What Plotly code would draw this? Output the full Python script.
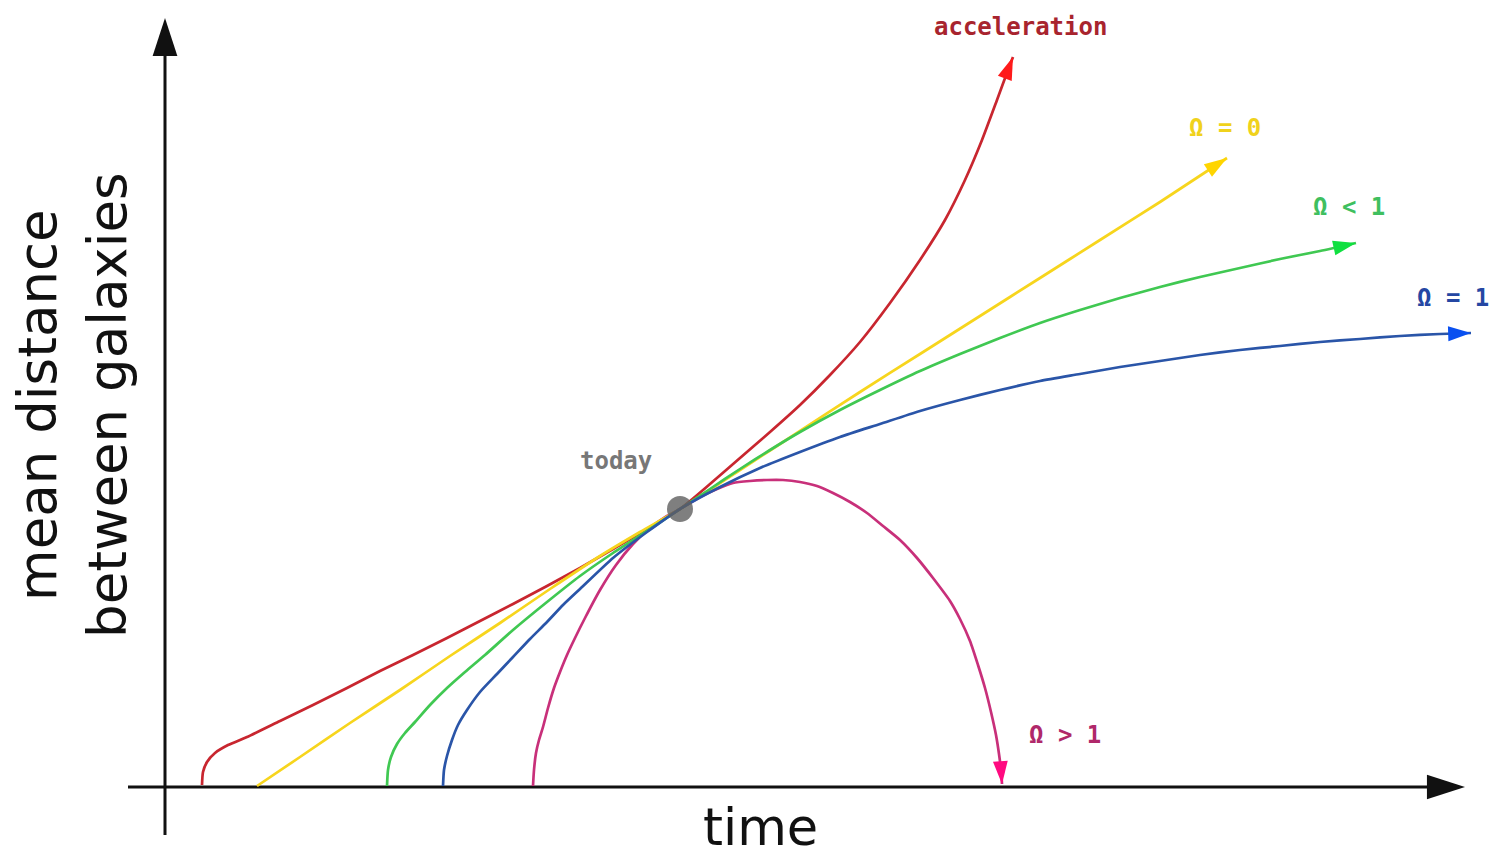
import plotly.graph_objects as go

# ---- data (time, mean distance) ----
red_t = [0.37, 0.38, 0.42, 0.50, 0.63, 0.82, 1.15, 1.48, 1.82, 2.15, 2.48, 2.82, 3.15, 3.48, 3.82, 4.15, 4.48, 4.82, 5.15,
         5.45, 5.75, 6.05, 6.35, 6.65, 6.95, 7.25, 7.55, 7.80, 8.00, 8.17, 8.32, 8.43, 8.48]
red_a = [0.02, 0.15, 0.25, 0.34, 0.42, 0.50, 0.66, 0.82, 0.99, 1.16, 1.32, 1.49, 1.66, 1.83, 2.01, 2.19, 2.38, 2.58, 2.78,
         3.03, 3.29, 3.55, 3.82, 4.12, 4.45, 4.84, 5.27, 5.67, 6.07, 6.47, 6.87, 7.17, 7.30]

yellow_t = [0.92, 1.35, 1.85, 2.35, 2.85, 3.35, 3.85, 4.35, 4.75, 5.15, 5.75, 6.35, 6.95, 7.55, 8.15, 8.75, 9.35, 9.95, 10.62]
yellow_a = [0.01, 0.30, 0.64, 0.97, 1.31, 1.64, 1.98, 2.31, 2.55, 2.78, 3.17, 3.56, 3.95, 4.33, 4.71, 5.09, 5.47, 5.85, 6.29]

green_t = [2.22, 2.23, 2.26, 2.32, 2.40, 2.50, 2.65, 2.82, 3.00, 3.20, 3.48, 3.82, 4.15, 4.48, 4.82, 5.15,
           5.45, 5.75, 6.05, 6.35, 6.75, 7.15, 7.55, 7.95, 8.35, 8.75, 9.15, 9.55, 9.95, 10.35, 10.75, 11.15, 11.55, 11.91]
green_a = [0.01, 0.17, 0.30, 0.43, 0.54, 0.65, 0.82, 0.99, 1.15, 1.32, 1.57, 1.85, 2.11, 2.34, 2.56, 2.78,
           2.98, 3.18, 3.37, 3.55, 3.77, 3.97, 4.16, 4.33, 4.49, 4.64, 4.77, 4.89, 5.00, 5.10, 5.19, 5.28, 5.36, 5.44]

blue_t = [2.78, 2.79, 2.82, 2.87, 2.93, 3.02, 3.15, 3.32, 3.48, 3.65, 3.82, 3.98, 4.15, 4.48, 4.82, 5.15,
          5.55, 5.95, 6.35, 6.75, 7.15, 7.55, 7.95, 8.35, 8.75, 9.15, 9.55, 9.95, 10.35, 10.75, 11.15, 11.55, 11.95, 12.35, 12.75, 13.06]
blue_a = [0.01, 0.17, 0.31, 0.47, 0.62, 0.77, 0.95, 1.13, 1.30, 1.48, 1.65, 1.82, 1.98, 2.29, 2.55, 2.78,
          3.00, 3.19, 3.35, 3.50, 3.63, 3.76, 3.87, 3.97, 4.06, 4.13, 4.20, 4.26, 4.32, 4.37, 4.41, 4.45, 4.48, 4.51, 4.53, 4.54]

magenta_t = [3.68, 3.69, 3.71, 3.74, 3.78, 3.83, 3.89, 3.95, 4.02, 4.10, 4.20, 4.35, 4.51, 4.68, 4.85, 5.02, 5.15, 5.35,
             5.52, 5.68, 5.85, 6.02, 6.18, 6.35, 6.52, 6.68, 6.85, 7.02, 7.18, 7.35, 7.52, 7.68, 7.85, 7.95, 8.05, 8.13,
             8.20, 8.26, 8.31, 8.34, 8.36, 8.37]
magenta_a = [0.01, 0.17, 0.34, 0.47, 0.60, 0.79, 0.99, 1.15, 1.32, 1.49, 1.69, 1.97, 2.22, 2.43, 2.59, 2.71, 2.78, 2.90,
             2.98, 3.04, 3.06, 3.07, 3.07, 3.05, 3.01, 2.94, 2.85, 2.74, 2.61, 2.47, 2.29, 2.09, 1.86, 1.68, 1.46, 1.22,
             0.99, 0.75, 0.52, 0.33, 0.17, 0.03]

today_t = [5.15]
today_a = [2.78]

# axis extents (time axis, distance axis)
xaxis_t = [-0.37, 13.00]
xaxis_a = [0.0, 0.0]
yaxis_t = [0.0, 0.0]
yaxis_a = [-0.48, 7.69]

# labels
labels = ["acceleration", "Ω = 0", "Ω < 1", "Ω = 1", "Ω > 1", "today"]
label_t = [8.55, 10.60, 11.84, 12.88, 9.00, 4.51]
label_a = [7.60, 6.59, 5.80, 4.89, 0.52, 3.26]
label_colors = ["#a8242e", "#f0d21c", "#3fbf5f", "#2547a3", "#b0286a", "#777777"]

x_title = "time"
y_title_1 = "mean distance"
y_title_2 = "between galaxies"

fig = go.Figure()

# axes with arrowheads
for tt, aa in [(xaxis_t, xaxis_a), (yaxis_t, yaxis_a)]:
    fig.add_trace(go.Scatter(
        x=tt, y=aa, mode="lines+markers",
        line=dict(color="#111111", width=3),
        marker=dict(symbol="arrow", size=[0, 40], angleref="previous", opacity=1,
                    color="#111111", line=dict(width=0)),
        hoverinfo="skip"))

curves = [
    (magenta_t, magenta_a, "#c8307a", "#ff0a80"),
    (red_t, red_a, "#c8262f", "#ff1a1a"),
    (yellow_t, yellow_a, "#f7d51d", "#ffd500"),
    (green_t, green_a, "#40c852", "#10e040"),
    (blue_t, blue_a, "#2a55a8", "#0a50f0"),
]
for tt, aa, lc, ac in curves:
    sizes = [0] * (len(tt) - 1) + [24]
    fig.add_trace(go.Scatter(
        x=tt, y=aa, mode="lines+markers",
        line=dict(color=lc, width=2.7, shape="spline", smoothing=0.6),
        marker=dict(symbol="arrow", size=sizes, angleref="previous", opacity=1,
                    color=ac, line=dict(width=0)),
        hoverinfo="skip"))

# today dot
fig.add_trace(go.Scatter(
    x=today_t, y=today_a, mode="markers",
    marker=dict(size=26, color="rgba(95,95,95,0.8)", opacity=1, line=dict(width=0)),
    hoverinfo="skip"))

for txt, tx, ay, col in zip(labels, label_t, label_a, label_colors):
    fig.add_annotation(x=tx, y=ay, text=txt, showarrow=False,
                       xanchor="center", yanchor="middle",
                       font=dict(family="DejaVu Sans Mono", size=24, color=col, weight="bold"))

fig.add_annotation(x=5.95, y=-0.40, text=x_title, showarrow=False,
                   xanchor="center", yanchor="middle", borderpad=0,
                   font=dict(family="DejaVu Sans", size=51, color="#111111"))
fig.add_annotation(x=-1.28, y=3.82, text=y_title_1, showarrow=False, textangle=-90,
                   xanchor="center", yanchor="middle",
                   font=dict(family="DejaVu Sans", size=53, color="#111111"))
fig.add_annotation(x=-0.58, y=3.82, text=y_title_2, showarrow=False, textangle=-90,
                   xanchor="center", yanchor="middle",
                   font=dict(family="DejaVu Sans", size=53, color="#111111"))

# page body has an 8px margin, so the figure covers the window from (8, 8)
fig.update_layout(
    width=1494, height=849,
    margin=dict(l=0, r=0, t=0, b=0),
    paper_bgcolor="white", plot_bgcolor="white",
    showlegend=False, hovermode=False,
    xaxis=dict(visible=False, range=[-1.57, 13.37], fixedrange=True),
    yaxis=dict(visible=False, range=[-0.70, 7.79], fixedrange=True),
)

fig.write_html("out.html")
